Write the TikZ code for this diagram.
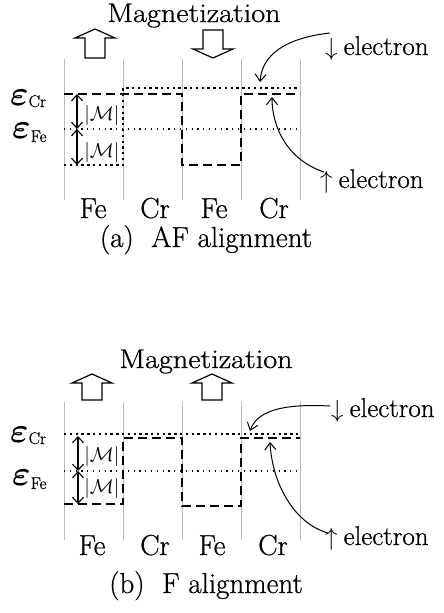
\documentclass[tikz,border=0pt]{standalone}
\usepackage{amsmath,amssymb}
\usepackage{bm}
\usepackage{graphicx}
\usepackage{fontspec}
\setmainfont{Latin Modern Roman}[FakeBold=0.7]
\usetikzlibrary{arrows.meta}
\tikzset{
  colline/.style={gray!55, line width=0.6pt},
  thickdot/.style={line width=2.3pt, dash pattern=on 2.3pt off 3.5pt},
  thindot/.style={line width=1.2pt, dash pattern=on 1.2pt off 4.6pt},
  dashline/.style={line width=1.2pt, dash pattern=on 9pt off 5pt},
  blockarrow/.style={line width=1.2pt, fill=white, line join=miter},
  marrow/.style={line width=1.1pt, {Straight Barb[length=6pt,width=11pt]}-{Straight Barb[length=6pt,width=11pt]}},
  earrow/.style={line width=1pt, -{Straight Barb[length=7pt,width=11pt]}},
  lbl/.style={inner sep=0pt, anchor=base, font=\fontsize{29}{30}\selectfont},
  maglbl/.style={inner sep=0pt, anchor=base, font=\fontsize{27}{28}\selectfont},
  caplbl/.style={inner sep=0pt, anchor=base, font=\fontsize{29}{30}\selectfont},
  elbl/.style={inner sep=0pt, anchor=base west, font=\fontsize{27}{28}\selectfont},
  elev/.style={inner sep=0pt, anchor=base west},
  mlbl/.style={inner sep=0pt}
}
\newcommand{\epslab}[2]{\scalebox{3.5}{$\bm{\varepsilon}$}\raisebox{#2}{\fontsize{17}{17}\selectfont #1}}
\newcommand{\mlab}{\scalebox{2.0}{$|\mathcal{M}|$}}
\newcommand{\magtext}{\scalebox{1.12}[1]{Magnetization}}
\begin{document}
\begin{tikzpicture}[x=1pt,y=-1pt]
\useasboundingbox[fill=white] (0,0) rectangle (444,613);

% ================= (a) AF alignment =================
\node[maglbl] (magA) at (194,22) {\magtext};
% block arrows
\draw[blockarrow] (95,29) -- ++(20,9) -- ++(-10,0) -- ++(0,20) -- ++(-20,0) -- ++(0,-20) -- ++(-10,0) -- cycle;
\draw[blockarrow] (213,58) -- ++(20,-9) -- ++(-10,0) -- ++(0,-19) -- ++(-20,0) -- ++(0,19) -- ++(-10,0) -- cycle;
% column boundaries
\foreach \x in {64,123,182,241,300} \draw[colline] (\x,59) -- (\x,200);
% levels
\draw[thindot] (64,129) -- (300,129);
\draw[thickdot] (64,165) -- (123,165) -- (123,88) -- (300,88);
\draw[dashline] (64,94) -- (182,94) -- (182,165) -- (241,165) -- (241,94) -- (300,94);
% energy labels
\node[elev] (ecrA) at (10,105) {\epslab{Cr}{-2pt}};
\node[elev] (efeA) at (12,138) {\epslab{Fe}{-4pt}};
% M arrows
\coordinate (a1) at (77,94);
\coordinate (a2) at (77,129);
\coordinate (a3) at (77,165);
\draw[marrow] (a1) -- (a2);
\draw[marrow] (a2) -- (a3);
\node[mlbl] (mA1) at (102,115) {\mlab};
\node[mlbl] (mA2) at (102,152) {\mlab};
% column labels
\node[lbl] (feA1) at (93,218) {Fe};
\node[lbl] (crA1) at (155,218) {Cr};
\node[lbl] (feA2) at (214,218) {Fe};
\node[lbl] (crA2) at (274,218) {Cr};
% electron labels
\node[elbl] (edA) at (325,55) {$\downarrow$\hspace{6pt}electron};
\node[elbl] (euA) at (320,188) {$\uparrow$\hspace{6pt}electron};
\coordinate (edAs) at (330,33);
\coordinate (edAt) at (260,82);
\coordinate (euAs) at (324,172);
\coordinate (euAt) at (272,97);
\draw[earrow] (edAs) .. controls (285,38) and (262,55) .. (edAt);
\draw[earrow] (euAs) .. controls (288,160) and (272,128) .. (euAt);
\node[caplbl] (capA) at (206,247) {(a)~~AF alignment};

% ================= (b) F alignment =================
\node[maglbl] (magB) at (206,368) {\magtext};
\draw[blockarrow] (92,374) -- ++(20,9) -- ++(-10,0) -- ++(0,17) -- ++(-20,0) -- ++(0,-17) -- ++(-10,0) -- cycle;
\draw[blockarrow] (212,374) -- ++(20,9) -- ++(-10,0) -- ++(0,17) -- ++(-20,0) -- ++(0,-17) -- ++(-10,0) -- cycle;
\foreach \x in {64,123,182,241,300} \draw[colline] (\x,402) -- (\x,540);
\draw[thindot] (64,471) -- (300,471);
\draw[thickdot] (64,434) -- (300,434);
\draw[dashline] (64,504) -- (123,504) -- (123,438) -- (182,438) -- (182,506) -- (241,506) -- (241,438) -- (300,438);
\node[elev] (ecrB) at (10,442) {\epslab{Cr}{-2pt}};
\node[elev] (efeB) at (12,485) {\epslab{Fe}{-4pt}};
\coordinate (b1) at (78,436);
\coordinate (b2) at (78,471);
\coordinate (b3) at (78,504);
\draw[marrow] (b1) -- (b2);
\draw[marrow] (b2) -- (b3);
\node[mlbl] (mB1) at (102,456) {\mlab};
\node[mlbl] (mB2) at (102,488) {\mlab};
\node[lbl] (feB1) at (92,555) {Fe};
\node[lbl] (crB1) at (155,555) {Cr};
\node[lbl] (feB2) at (212,555) {Fe};
\node[lbl] (crB2) at (273,555) {Cr};
\node[elbl] (edB) at (331,417) {$\downarrow$\hspace{6pt}electron};
\node[elbl] (euB) at (325,545) {$\uparrow$\hspace{6pt}electron};
\coordinate (edBs) at (330,406);
\coordinate (edBt) at (250,431);
\coordinate (euBs) at (328,533);
\coordinate (euBt) at (270,442);
\draw[earrow] (edBs) .. controls (290,404) and (258,408) .. (edBt);
\draw[earrow] (euBs) .. controls (293,523) and (272,482) .. (euBt);
\node[caplbl] (capB) at (206,593) {(b)~~F alignment};
\end{tikzpicture}
\end{document}
